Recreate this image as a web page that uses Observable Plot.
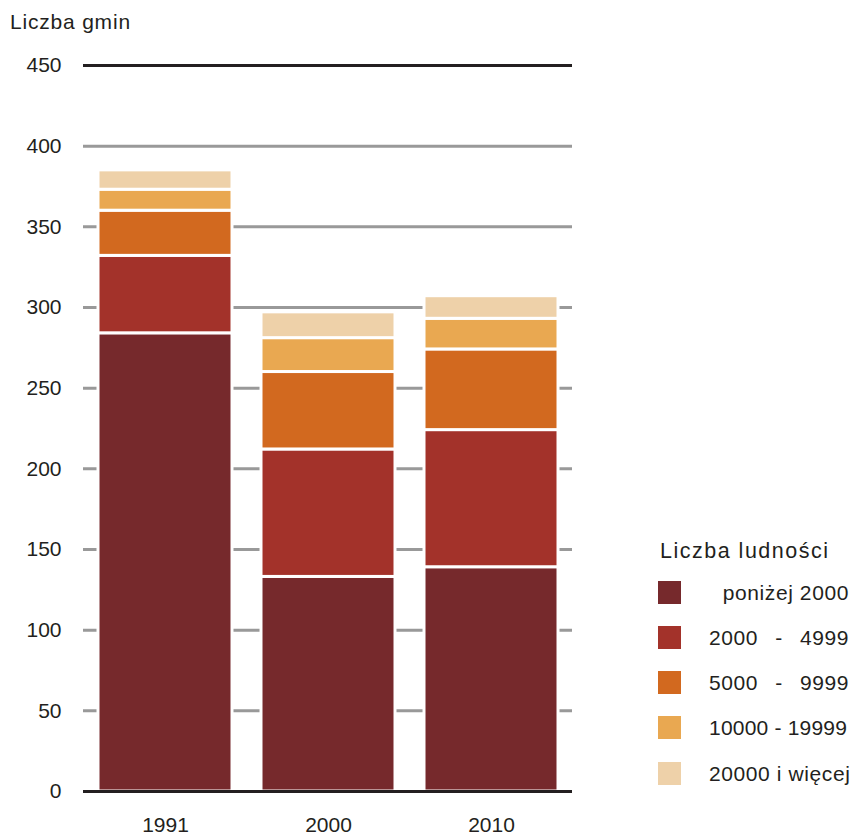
<!DOCTYPE html>
<html>
<head>
<meta charset="utf-8">
<script src="https://cdn.jsdelivr.net/npm/d3@7"></script>
<script src="https://cdn.jsdelivr.net/npm/@observablehq/plot@0.6"></script>
<style>
  html, body { margin: 0; padding: 0; background: #fff; }
  #wrap { position: relative; width: 854px; height: 836px; font-family: "Liberation Sans", Arial, Helvetica, sans-serif; color: #231f20; }
  #wrap svg { position: absolute; left: 0; top: 0; }
  .title { position: absolute; left: 10px; top: 9px; font-size: 21px; letter-spacing: 0.8px; line-height: 26px; }
  .legend { position: absolute; left: 658px; top: 538px; font-size: 21px; }
  .legend .head { position: absolute; left: 2px; top: 0; white-space: nowrap; line-height: 26px; font-size: 21.5px; letter-spacing: 1.5px; }
  .legend .row { position: absolute; left: 0; height: 23px; }
  .legend .sw { position: absolute; left: 0; top: 0; width: 23px; height: 23px; }
  .legend .lab { position: absolute; left: 51px; top: -1px; width: 140px; line-height: 25px; white-space: nowrap; letter-spacing: 0.6px; }
  .legend .lab.spread { text-align: justify; text-align-last: justify; }
  .legend .lab.right { text-align: right; text-align-last: right; }
</style>
</head>
<body>
<div id="wrap">
  <div class="title">Liczba gmin</div>
  <div class="legend" id="legend"><div class="head">Liczba ludności</div></div>
</div>
<script>
// Number of communes (gminy) by population size class
const years = ["1991", "2000", "2010"];
const classes = ["poniżej 2000", "2000 - 4999", "5000 - 9999", "10000 - 19999", "20000 i więcej"];
const colors = ["#76292c", "#a3322a", "#d2691f", "#e9a851", "#eed1a9"];

const below2000   = [284, 133, 139];
const from2000    = [48, 79, 85];
const from5000    = [28, 48, 50];
const from10000   = [13, 21, 19];
const from20000   = [12, 16, 14];

const yTicks = [0, 50, 100, 150, 200, 250, 300, 350, 400, 450];

const series = [below2000, from2000, from5000, from10000, from20000];
const rows = [];
years.forEach((year, i) => {
  classes.forEach((cls, k) => rows.push({year, cls, value: series[k][i]}));
});

const chart = Plot.plot({
  width: 854,
  height: 836,
  marginTop: 65,
  marginBottom: 45,
  marginLeft: 83,
  marginRight: 282,
  style: {fontFamily: '"Liberation Sans", Arial, Helvetica, sans-serif', fontSize: "21px", color: "#231f20", background: "transparent"},
  x: {domain: years, paddingInner: 0.18, paddingOuter: 0.086, label: null, tickSize: 0, tickPadding: 26},
  y: {domain: [0, 450], label: null, ticks: yTicks, tickSize: 0, tickPadding: 22},
  color: {domain: classes, range: colors},
  marks: [
    Plot.gridY(yTicks.filter(d => d > 0 && d < 450), {stroke: "#999", strokeOpacity: 1, strokeWidth: 3}),
    Plot.barY(rows, {x: "year", y: "value", fill: "cls", stroke: "white", strokeWidth: 3, order: classes}),
    Plot.ruleY([450], {stroke: "#231f20", strokeWidth: 3}),
    Plot.ruleY([0], {stroke: "#231f20", strokeWidth: 3})
  ]
});
document.getElementById("wrap").appendChild(chart);

// legend
const legend = document.getElementById("legend");
const rowTops = [43, 88, 133, 178, 224];
const labelStyle = ["right", "spread", "spread", "", ""];
classes.forEach((cls, k) => {
  const row = document.createElement("div");
  row.className = "row";
  row.style.top = rowTops[k] + "px";
  const sw = document.createElement("div");
  sw.className = "sw";
  sw.style.background = colors[k];
  const lab = document.createElement("div");
  lab.className = "lab " + labelStyle[k];
  lab.textContent = k === 3 ? cls.replace(/ - /, "-") .replace("-", " - ") : cls;
  if (k === 3) lab.style.letterSpacing = "0.2px";
  row.appendChild(sw);
  row.appendChild(lab);
  legend.appendChild(row);
});
</script>
</body>
</html>
